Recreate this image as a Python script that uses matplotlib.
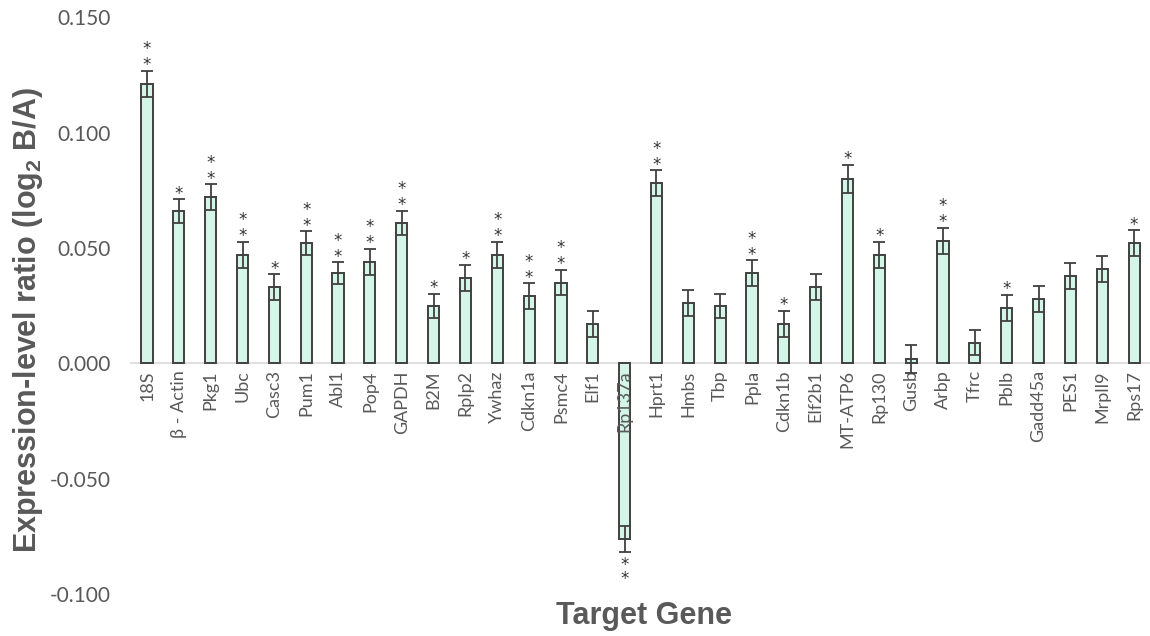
import matplotlib
matplotlib.use('Agg')
import matplotlib.pyplot as plt
import numpy as np

genes = ['18S', 'β - Actin', 'Pkg1', 'Ubc', 'Casc3', 'Pum1', 'Abl1', 'Pop4', 'GAPDH',
         'B2M', 'Rplp2', 'Ywhaz', 'Cdkn1a', 'Psmc4', 'Elf1', 'Rp137a', 'Hprt1', 'Hmbs',
         'Tbp', 'Ppla', 'Cdkn1b', 'Elf2b1', 'MT-ATP6', 'Rp130', 'Gusb', 'Arbp', 'Tfrc',
         'Pblb', 'Gadd45a', 'PES1', 'Mrpll9', 'Rps17']
ratio = [0.121, 0.066, 0.072, 0.047, 0.033, 0.052, 0.039, 0.044, 0.061,
         0.025, 0.037, 0.047, 0.029, 0.035, 0.017, -0.076, 0.078, 0.026,
         0.025, 0.039, 0.017, 0.033, 0.080, 0.047, 0.002, 0.053, 0.009,
         0.024, 0.028, 0.038, 0.041, 0.052]
err = [0.0057, 0.0050, 0.0056, 0.0056, 0.0056, 0.0052, 0.0048, 0.0056, 0.0052,
       0.0052, 0.0056, 0.0056, 0.0056, 0.0056, 0.0056, 0.0056, 0.0056, 0.0056,
       0.0052, 0.0056, 0.0056, 0.0056, 0.0060, 0.0056, 0.0060, 0.0056, 0.0056,
       0.0056, 0.0056, 0.0056, 0.0056, 0.0056]
signif = ['**', '*', '**', '**', '*', '**', '**', '**', '**',
          '*', '*', '**', '**', '**', '', '**', '**', '',
          '', '**', '*', '', '*', '*', '', '**', '',
          '*', '', '', '', '*']

grey = '#595959'
edge = '#404040'

fig = plt.figure(figsize=(11.5, 6.36), dpi=100)
ax = fig.add_axes([0.114, 0.066, 0.886, 0.907])

# zero line acts as the category axis
for sp in ['top', 'right', 'left']:
    ax.spines[sp].set_visible(False)
ax.spines['bottom'].set_position(('data', 0))
ax.spines['bottom'].set_color('#d9d9d9')
ax.spines['bottom'].set_linewidth(1.2)
ax.spines['bottom'].set_zorder(0.5)

x = np.arange(len(genes))
ax.bar(x, ratio, width=0.35, color='#d4f6e9', edgecolor=edge, linewidth=1.4, zorder=1)
ax.errorbar(x, ratio, yerr=err, fmt='none', ecolor=edge, elinewidth=1.3,
            capsize=4.3, capthick=1.3, zorder=3)

# significance stars, stacked one above the other
for xi, v, e, s in zip(x, ratio, err, signif):
    if not s:
        continue
    stars = '\n'.join(s)
    if v >= 0:
        ax.annotate(stars, (xi, v + e), xytext=(0, 0.5), textcoords='offset points',
                    ha='center', va='baseline', fontsize=12, linespacing=0.85,
                    color='#333333')
    else:
        ax.annotate(stars, (xi, v - e), xytext=(0, -3), textcoords='offset points',
                    ha='center', va='top', fontsize=12, linespacing=0.7,
                    color='#333333')

ax.set_xlim(-0.5, len(genes) - 0.5)
ax.set_ylim(-0.1, 0.15)
yt = np.arange(-0.1, 0.151, 0.05)
ax.set_yticks(yt)
ax.set_yticklabels(['%.3f' % t for t in yt], fontsize=15, color=grey, family='Lato')

ax.set_xticks(x)
ax.set_xticklabels(genes, rotation=90, fontsize=13, color=grey, family='Lato')
ax.tick_params(axis='both', length=0)
ax.tick_params(axis='x', pad=5)
ax.tick_params(axis='y', pad=15)

fig.text(0.024, 0.497, 'Expression-level ratio (log$_\\mathregular{2}$ B/A)', rotation=90,
         ha='center', va='center', fontsize=22, fontweight='bold', color=grey,
         family='Liberation Sans')
fig.text(0.56, 0.032, 'Target Gene', ha='center', va='center', fontsize=22,
         fontweight='bold', color=grey, family='Liberation Sans')

fig.savefig('out.png', dpi=100)
